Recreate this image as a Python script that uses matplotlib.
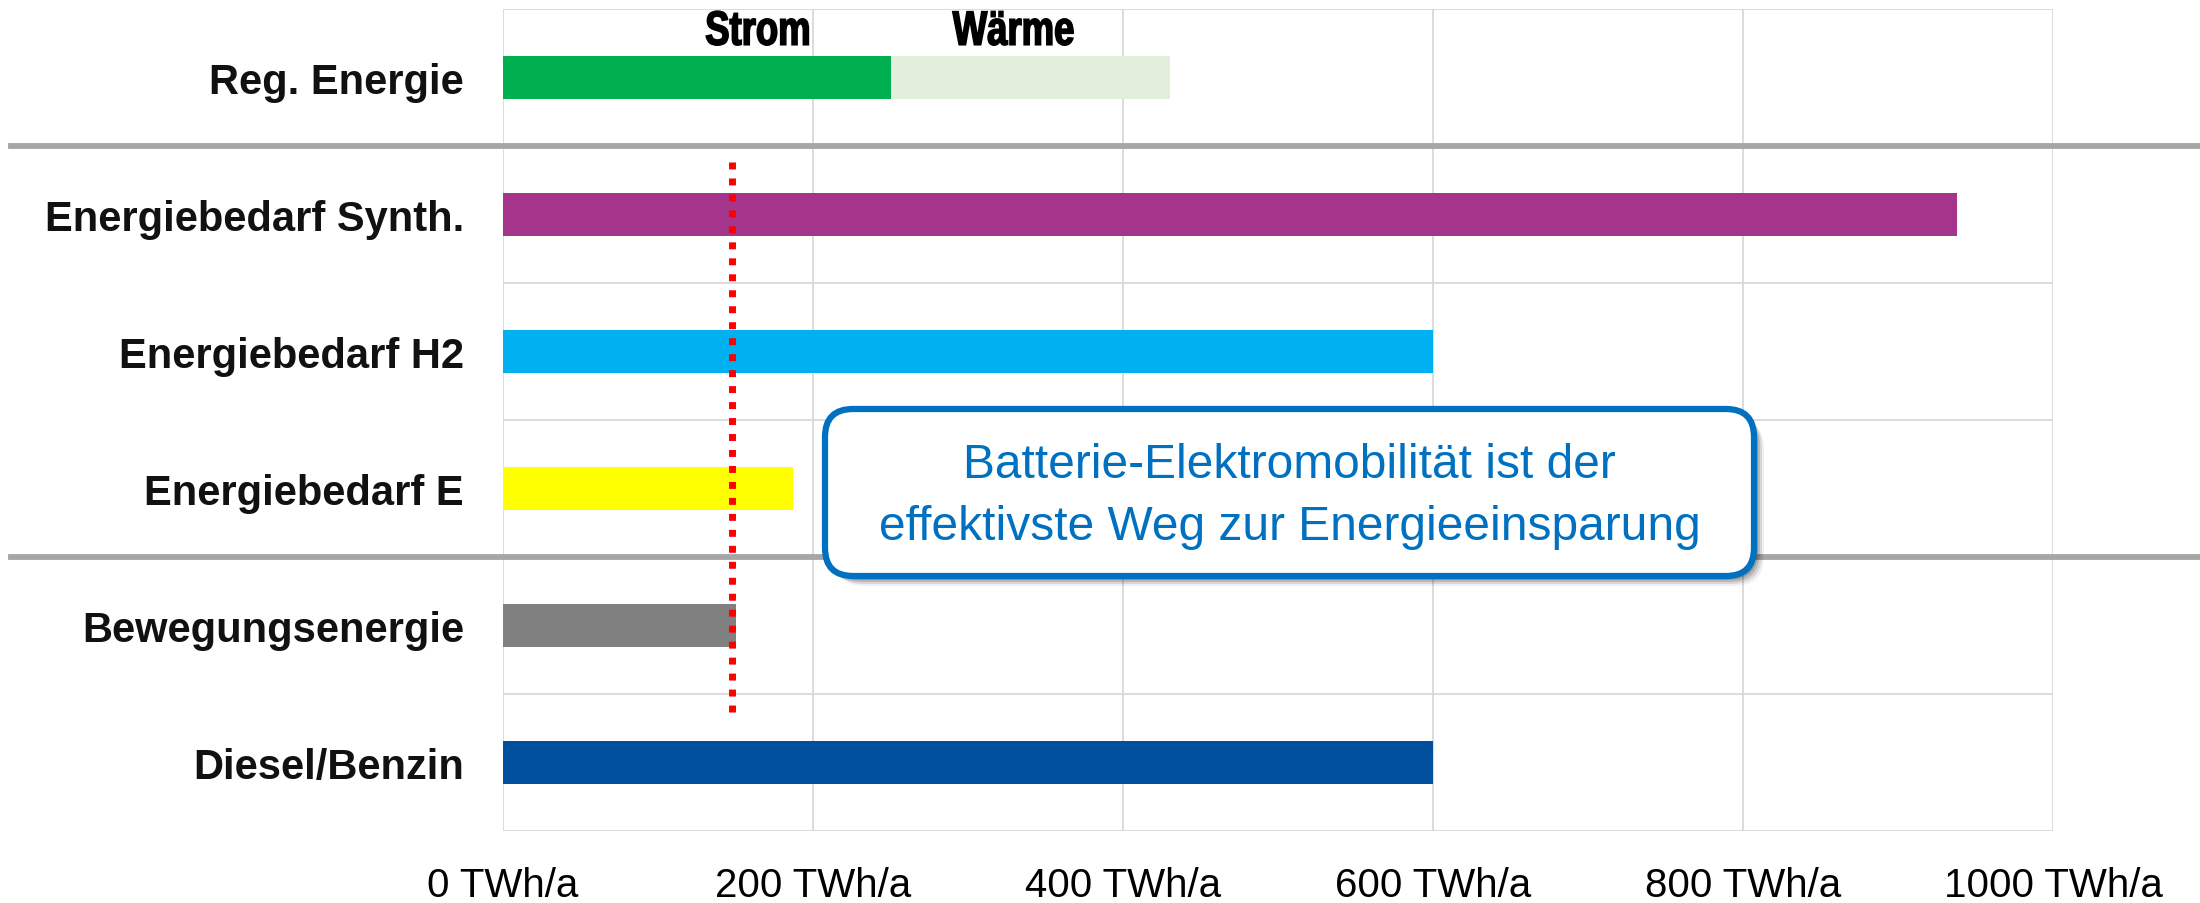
import numpy as np
import matplotlib
matplotlib.use("Agg")
import matplotlib.pyplot as plt
from matplotlib.patches import FancyBboxPatch, PathPatch
from matplotlib.lines import Line2D
from matplotlib.transforms import IdentityTransform, Affine2D
from matplotlib.textpath import TextPath
from matplotlib.font_manager import FontProperties

# Daten (TWh/a)
kategorien = ["Reg. Energie", "Energiebedarf Synth.", "Energiebedarf H2",
              "Energiebedarf E", "Bewegungsenergie", "Diesel/Benzin"]
werte = [250, 938, 600, 187, 150, 600]
farben = ["#00B050", "#A5358A", "#00B0F0", "#FFFF00", "#808080", "#00509E"]
waerme = 180          # Wärme-Anteil auf Reg. Energie (gestapelt)
bewegung_linie = 148  # rote Markierung
xticks = [0, 200, 400, 600, 800, 1000]
xlabels = ["%d TWh/a" % v for v in xticks]

plt.rcParams["font.family"] = ["Liberation Sans", "DejaVu Sans"]

fig = plt.figure(figsize=(22, 9.04), dpi=100)
ax = fig.add_axes([503 / 2200, 1 - 832 / 904, 1550 / 2200, 822 / 904])

y = np.arange(len(kategorien))
ax.barh(y, werte, height=0.32, color=farben, zorder=3)
ax.barh(0, waerme, left=werte[0], height=0.32, color="#E2EFDA", zorder=3)

ax.set_xlim(0, 1000)
ax.set_ylim(len(kategorien) - 0.5, -0.5)

# Gitter
for xv in xticks:
    ax.axvline(xv, color="#D9D9D9", lw=1.3, zorder=1)
for yv in [-0.5, 1.5, 2.5, 4.5, 5.5]:
    ax.axhline(yv, color="#D9D9D9", lw=1.3, zorder=1)
for s in ax.spines.values():
    s.set_visible(False)

ax.set_yticks(y)
ax.set_yticklabels(kategorien, fontsize=30, fontweight="bold", color="#111111")
ax.set_xticks(xticks)
ax.set_xticklabels(xlabels, fontsize=29, color="#000000")
ax.tick_params(axis="y", length=0, pad=28)
ax.tick_params(axis="x", length=0, pad=25)

# Trennlinien über die ganze Breite
for yv in [0.5, 3.5]:
    yf = ax.transData.transform((0, yv))[1] / fig.bbox.height
    fig.add_artist(Line2D([11 / 2200, 1.0], [yf, yf], transform=fig.transFigure,
                          color="#A6A6A6", lw=4.2, zorder=5))

# rote gepunktete Linie
ax.plot([bewegung_linie, bewegung_linie], [0.62, 4.66], color="#FF0000", lw=5,
        linestyle=(0, (1, 1.3)), dash_capstyle="butt", zorder=6)


# Strom / Wärme in schmaler, fetter Schrift (horizontal gestaucht)
def schmal(txt, xd, yd, ha, size=48, sx=0.76):
    fp = FontProperties(family="Liberation Sans", weight="bold")
    tp = TextPath((0, 0), txt, size=size, prop=fp)
    cap = TextPath((0, 0), "S", size=size, prop=fp).get_extents()
    ext = tp.get_extents()
    px, py = ax.transData.transform((xd, yd))
    w = ext.width * sx
    x0 = px - w if ha == "right" else px - w / 2
    tr = Affine2D().translate(-ext.x0, -(cap.y0 + cap.height / 2)).scale(sx, 1).translate(x0, py)
    fig.add_artist(PathPatch(tr.transform_path(tp), transform=IdentityTransform(),
                             facecolor="black", edgecolor="black", lw=1.2, zorder=6))


schmal("Strom", 197, -0.36, "right")
schmal("Wärme", 329, -0.36, "center")

# Hinweisbox
bx, by, bw, bh = 825, 904 - 577, 929, 167
for off, a in [(10, 0.06), (8, 0.10), (6, 0.14), (4, 0.18)]:
    sh = FancyBboxPatch((bx + off, by - off), bw, bh,
                        boxstyle="round,pad=0,rounding_size=30",
                        transform=IdentityTransform(), facecolor="#000000",
                        edgecolor="none", alpha=a, zorder=7)
    fig.add_artist(sh)
box = FancyBboxPatch((bx, by), bw, bh, boxstyle="round,pad=0,rounding_size=28",
                     transform=IdentityTransform(), facecolor="white",
                     edgecolor="#0070C0", lw=4.5, zorder=8)
fig.add_artist(box)
fig.text((bx + bw / 2) / 2200, (by + bh / 2 - 3) / 904,
         "Batterie-Elektromobilität ist der\neffektivste Weg zur Energieeinsparung",
         ha="center", va="center", fontsize=34.5, color="#0070C0",
         linespacing=1.5, zorder=9)

fig.savefig("out.png", dpi=100)
